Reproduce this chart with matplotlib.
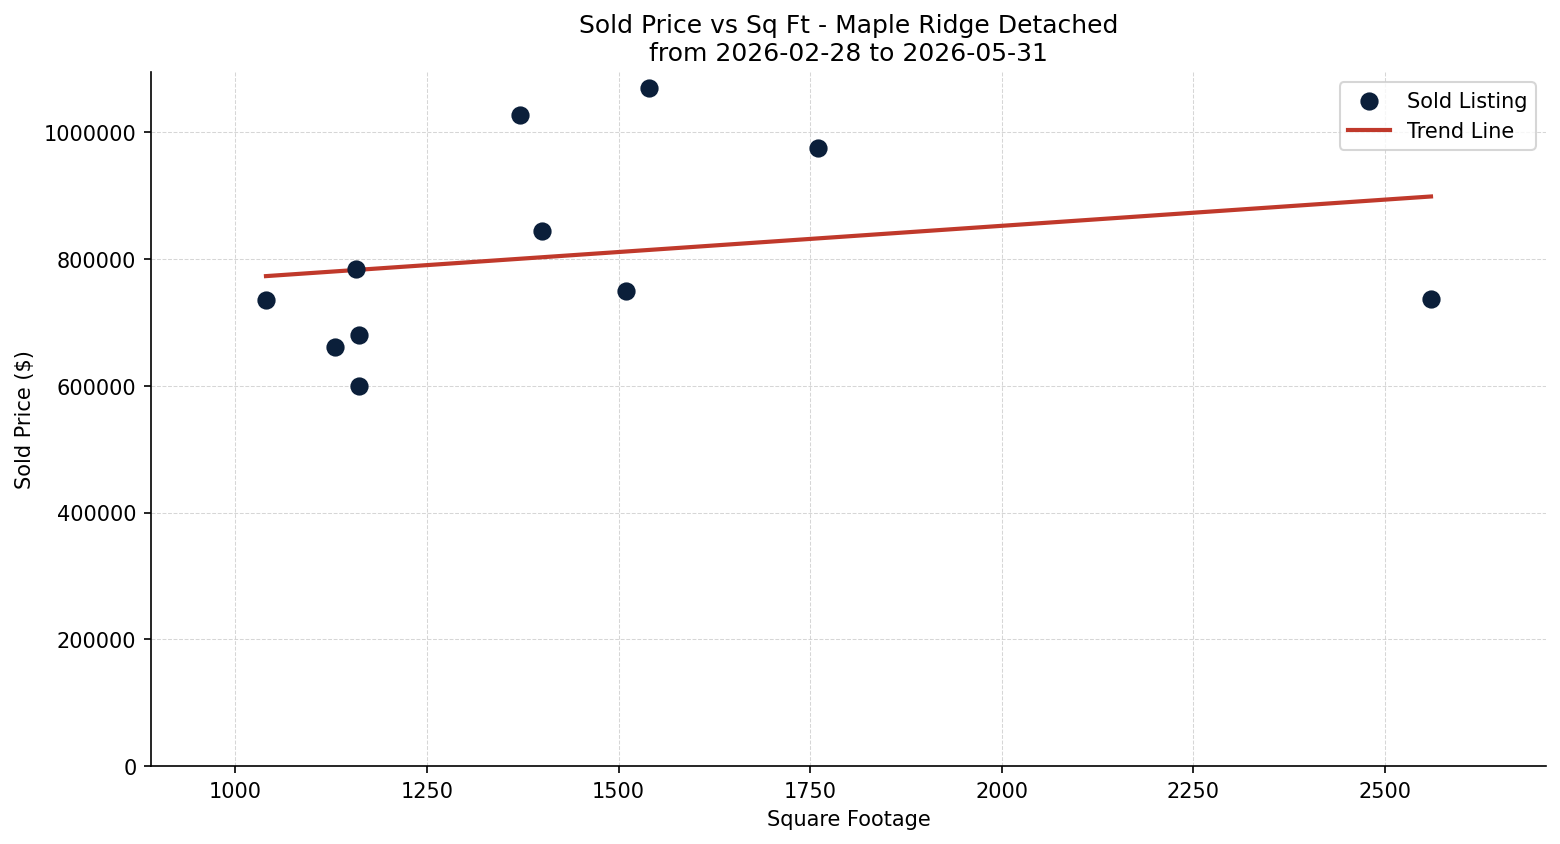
import numpy as np
from matplotlib import pyplot as plt

# sold listings
sqft = [1040, 1130, 1158, 1162, 1162, 1372, 1400, 1510, 1540, 1760, 2560]
price = [735000, 661000, 784000, 680000, 600000, 1028000, 844000, 749000, 1070000, 975000, 737000]

area = "Maple Ridge Detached"
start_date = "2026-02-28"
end_date = "2026-05-31"


def main():
    fig, ax = plt.subplots(figsize=(10.4, 5.633), dpi=150)
    ax.scatter(sqft, price, color="#0b1f3a", s=60, zorder=3, label="Sold Listing")

    # least squares trend
    m, b = np.polyfit(sqft, price, 1)
    xs = np.array([min(sqft), max(sqft)])
    ax.plot(xs, m * xs + b, color="#c0392b", linewidth=2, label="Trend Line")

    ax.set_title("Sold Price vs Sq Ft - " + area + "\nfrom " + start_date + " to " + end_date, fontsize=12)
    ax.set_xlabel("Square Footage")
    ax.set_ylabel("Sold Price ($)")
    ax.set_xlim(min(sqft) - 150, max(sqft) + 150)
    ax.set_ylim(0, max(price) + 25000)
    ax.ticklabel_format(style="plain", axis="y")
    ax.grid(True, linestyle="--", linewidth=0.5, color="#cccccc", alpha=0.8)
    ax.spines["top"].set_visible(False)
    ax.spines["right"].set_visible(False)
    ax.legend(loc="upper right")
    fig.subplots_adjust(left=0.0968, right=0.991, top=0.9136, bottom=0.0923)
    plt.savefig("out.png")


if __name__ == "__main__":
    main()
